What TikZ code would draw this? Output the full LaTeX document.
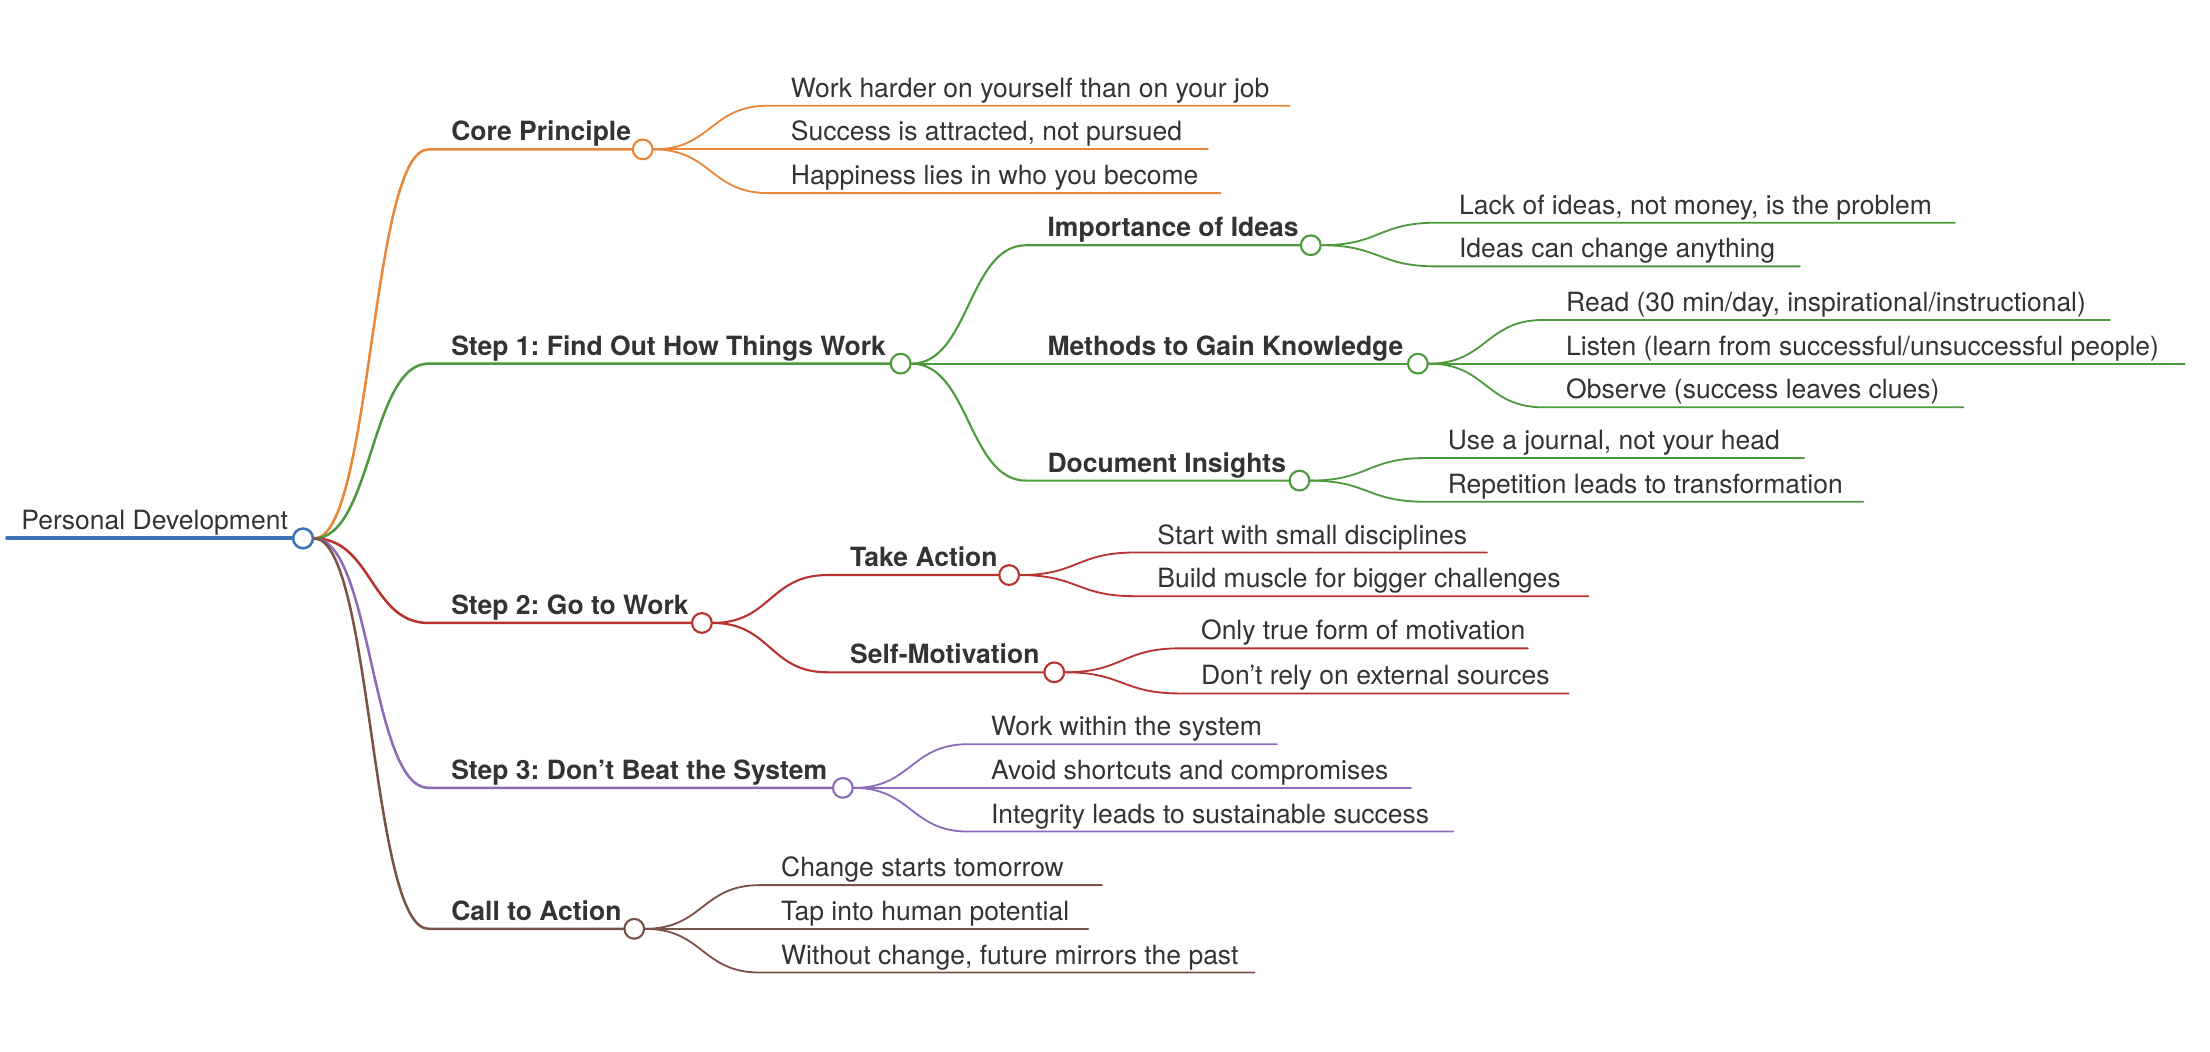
\documentclass[tikz,border=0pt]{standalone}
\usepackage{fontspec}
\setmainfont{TeX Gyre Heros}
\frenchspacing
\definecolor{txt}{HTML}{333333}
\definecolor{mmblue}{HTML}{3B74B5}
\definecolor{mmorange}{HTML}{E8873A}
\definecolor{mmgreen}{HTML}{4C9A3C}
\definecolor{mmred}{HTML}{B8332E}
\definecolor{mmpurple}{HTML}{8C6BB8}
\definecolor{mmbrown}{HTML}{7B5247}
\tikzset{
  lbl/.style={anchor=base west, inner sep=0pt, text=txt, font=\fontsize{18.8}{22}\selectfont},
  hd/.style={lbl, font=\fontsize{18.8}{22}\selectfont\bfseries},
  dot/.style={circle, fill=white, line width=1.5pt, minimum size=14pt, inner sep=0pt},
  l1/.style={line width=1.8pt},
  l2/.style={line width=1.5pt},
  l3/.style={line width=1.3pt},
}

\begin{document}
\begin{tikzpicture}[x=1pt, y=-1pt, line cap=round]
\useasboundingbox (0,0) rectangle (1568,746);

% root
\coordinate (pd-s) at (5,382);
\node[dot, draw=mmblue, line width=1.8pt] (pd) at (215,382) {};
\node[lbl] (pd-t) at (15,376) {Personal Development};
\draw[mmblue, line width=2.8pt] (pd-s) -- (pd);

% core principle
\coordinate (core-s) at (304,106);
\node[dot, draw=mmorange] (core) at (456,106) {};
\node[hd] (core-t) at (320,100) {Core Principle};
\draw[mmorange, l1] (pd.east) .. controls +(41,0) and +(-41,0) .. (core-s) -- (core);
\coordinate (core1-s) at (545,75);  \coordinate (core1-e) at (915,75);
\coordinate (core2-s) at (545,106); \coordinate (core2-e) at (857,106);
\coordinate (core3-s) at (545,137); \coordinate (core3-e) at (866,137);
\node[lbl] (core1) at (561,69) {Work harder on yourself than on your job};
\node[lbl] (core2) at (561,100) {Success is attracted, not pursued};
\node[lbl] (core3) at (561,131) {Happiness lies in who you become};
\draw[mmorange, l3] (core.east) .. controls +(41,0) and +(-41,0) .. (core1-s) -- (core1-e);
\draw[mmorange, l3] (core.east) .. controls +(41,0) and +(-41,0) .. (core2-s) -- (core2-e);
\draw[mmorange, l3] (core.east) .. controls +(41,0) and +(-41,0) .. (core3-s) -- (core3-e);

% step 1
\coordinate (st1-s) at (304,258);
\node[dot, draw=mmgreen] (st1) at (639,258) {};
\node[hd] (st1-t) at (320,252) {Step 1: Find Out How Things Work};
\draw[mmgreen, l1] (pd.east) .. controls +(41,0) and +(-41,0) .. (st1-s) -- (st1);

\coordinate (ideas-s) at (728,174);
\node[dot, draw=mmgreen] (ideas) at (930,174) {};
\node[hd] (ideas-t) at (743,168) {Importance of Ideas};
\draw[mmgreen, l2] (st1.east) .. controls +(41,0) and +(-41,0) .. (ideas-s) -- (ideas);
\coordinate (ideas1-s) at (1019,158); \coordinate (ideas1-e) at (1387,158);
\coordinate (ideas2-s) at (1019,189); \coordinate (ideas2-e) at (1277,189);
\node[lbl] (ideas1) at (1035,152) {Lack of ideas, not money, is the problem};
\node[lbl] (ideas2) at (1035,183) {Ideas can change anything};
\draw[mmgreen, l3] (ideas.east) .. controls +(41,0) and +(-41,0) .. (ideas1-s) -- (ideas1-e);
\draw[mmgreen, l3] (ideas.east) .. controls +(41,0) and +(-41,0) .. (ideas2-s) -- (ideas2-e);

\coordinate (meth-s) at (728,258);
\node[dot, draw=mmgreen] (meth) at (1006,258) {};
\node[hd] (meth-t) at (743,252) {Methods to Gain Knowledge};
\draw[mmgreen, l2] (st1.east) .. controls +(41,0) and +(-41,0) .. (meth-s) -- (meth);
\coordinate (meth1-s) at (1095,227); \coordinate (meth1-e) at (1497,227);
\coordinate (meth2-s) at (1095,258); \coordinate (meth2-e) at (1550,258);
\coordinate (meth3-s) at (1095,289); \coordinate (meth3-e) at (1393,289);
\node[lbl] (meth1) at (1111,221) {Read (30 min/day, inspirational/instructional)};
\node[lbl] (meth2) at (1111,252) {Listen (learn from successful/unsuccessful people)};
\node[lbl] (meth3) at (1111,283) {Observe (success leaves clues)};
\draw[mmgreen, l3] (meth.east) .. controls +(41,0) and +(-41,0) .. (meth1-s) -- (meth1-e);
\draw[mmgreen, l3] (meth.east) .. controls +(41,0) and +(-41,0) .. (meth2-s) -- (meth2-e);
\draw[mmgreen, l3] (meth.east) .. controls +(41,0) and +(-41,0) .. (meth3-s) -- (meth3-e);

\coordinate (doc-s) at (728,341);
\node[dot, draw=mmgreen] (doc) at (922,341) {};
\node[hd] (doc-t) at (743,335) {Document Insights};
\draw[mmgreen, l2] (st1.east) .. controls +(41,0) and +(-41,0) .. (doc-s) -- (doc);
\coordinate (doc1-s) at (1011,325); \coordinate (doc1-e) at (1280,325);
\coordinate (doc2-s) at (1011,356); \coordinate (doc2-e) at (1322,356);
\node[lbl] (doc1) at (1027,319) {Use a journal, not your head};
\node[lbl] (doc2) at (1027,350) {Repetition leads to transformation};
\draw[mmgreen, l3] (doc.east) .. controls +(41,0) and +(-41,0) .. (doc1-s) -- (doc1-e);
\draw[mmgreen, l3] (doc.east) .. controls +(41,0) and +(-41,0) .. (doc2-s) -- (doc2-e);

% step 2
\coordinate (st2-s) at (304,442);
\node[dot, draw=mmred] (st2) at (498,442) {};
\node[hd] (st2-t) at (320,436) {Step 2: Go to Work};
\draw[mmred, l1] (pd.east) .. controls +(41,0) and +(-41,0) .. (st2-s) -- (st2);

\coordinate (act-s) at (587,408);
\node[dot, draw=mmred] (act) at (716,408) {};
\node[hd] (act-t) at (603,402) {Take Action};
\draw[mmred, l2] (st2.east) .. controls +(41,0) and +(-41,0) .. (act-s) -- (act);
\coordinate (act1-s) at (805,392); \coordinate (act1-e) at (1055,392);
\coordinate (act2-s) at (805,423); \coordinate (act2-e) at (1127,423);
\node[lbl] (act1) at (821,386) {Start with small disciplines};
\node[lbl] (act2) at (821,417) {Build muscle for bigger challenges};
\draw[mmred, l3] (act.east) .. controls +(41,0) and +(-41,0) .. (act1-s) -- (act1-e);
\draw[mmred, l3] (act.east) .. controls +(41,0) and +(-41,0) .. (act2-s) -- (act2-e);

\coordinate (mot-s) at (587,477);
\node[dot, draw=mmred] (mot) at (748,477) {};
\node[hd] (mot-t) at (603,471) {Self-Motivation};
\draw[mmred, l2] (st2.east) .. controls +(41,0) and +(-41,0) .. (mot-s) -- (mot);
\coordinate (mot1-s) at (837,460); \coordinate (mot1-e) at (1084,460);
\coordinate (mot2-s) at (837,492); \coordinate (mot2-e) at (1113,492);
\node[lbl] (mot1) at (852,454) {Only true form of motivation};
\node[lbl] (mot2) at (852,486) {Don’t rely on external sources};
\draw[mmred, l3] (mot.east) .. controls +(41,0) and +(-41,0) .. (mot1-s) -- (mot1-e);
\draw[mmred, l3] (mot.east) .. controls +(41,0) and +(-41,0) .. (mot2-s) -- (mot2-e);

% step 3
\coordinate (st3-s) at (304,559);
\node[dot, draw=mmpurple] (st3) at (598,559) {};
\node[hd] (st3-t) at (320,553) {Step 3: Don’t Beat the System};
\draw[mmpurple, l1] (pd.east) .. controls +(41,0) and +(-41,0) .. (st3-s) -- (st3);
\coordinate (sys1-s) at (687,528); \coordinate (sys1-e) at (906,528);
\coordinate (sys2-s) at (687,559); \coordinate (sys2-e) at (1001,559);
\coordinate (sys3-s) at (687,590); \coordinate (sys3-e) at (1031,590);
\node[lbl] (sys1) at (703,522) {Work within the system};
\node[lbl] (sys2) at (703,553) {Avoid shortcuts and compromises};
\node[lbl] (sys3) at (703,584) {Integrity leads to sustainable success};
\draw[mmpurple, l3] (st3.east) .. controls +(41,0) and +(-41,0) .. (sys1-s) -- (sys1-e);
\draw[mmpurple, l3] (st3.east) .. controls +(41,0) and +(-41,0) .. (sys2-s) -- (sys2-e);
\draw[mmpurple, l3] (st3.east) .. controls +(41,0) and +(-41,0) .. (sys3-s) -- (sys3-e);

% call to action
\coordinate (call-s) at (304,659);
\node[dot, draw=mmbrown] (call) at (450,659) {};
\node[hd] (call-t) at (320,653) {Call to Action};
\draw[mmbrown, l1] (pd.east) .. controls +(41,0) and +(-41,0) .. (call-s) -- (call);
\coordinate (call1-s) at (539,628); \coordinate (call1-e) at (782,628);
\coordinate (call2-s) at (539,659); \coordinate (call2-e) at (772,659);
\coordinate (call3-s) at (539,690); \coordinate (call3-e) at (890,690);
\node[lbl] (call1) at (554,622) {Change starts tomorrow};
\node[lbl] (call2) at (554,653) {Tap into human potential};
\node[lbl] (call3) at (554,684) {Without change, future mirrors the past};
\draw[mmbrown, l3] (call.east) .. controls +(41,0) and +(-41,0) .. (call1-s) -- (call1-e);
\draw[mmbrown, l3] (call.east) .. controls +(41,0) and +(-41,0) .. (call2-s) -- (call2-e);
\draw[mmbrown, l3] (call.east) .. controls +(41,0) and +(-41,0) .. (call3-s) -- (call3-e);
\end{tikzpicture}
\end{document}
